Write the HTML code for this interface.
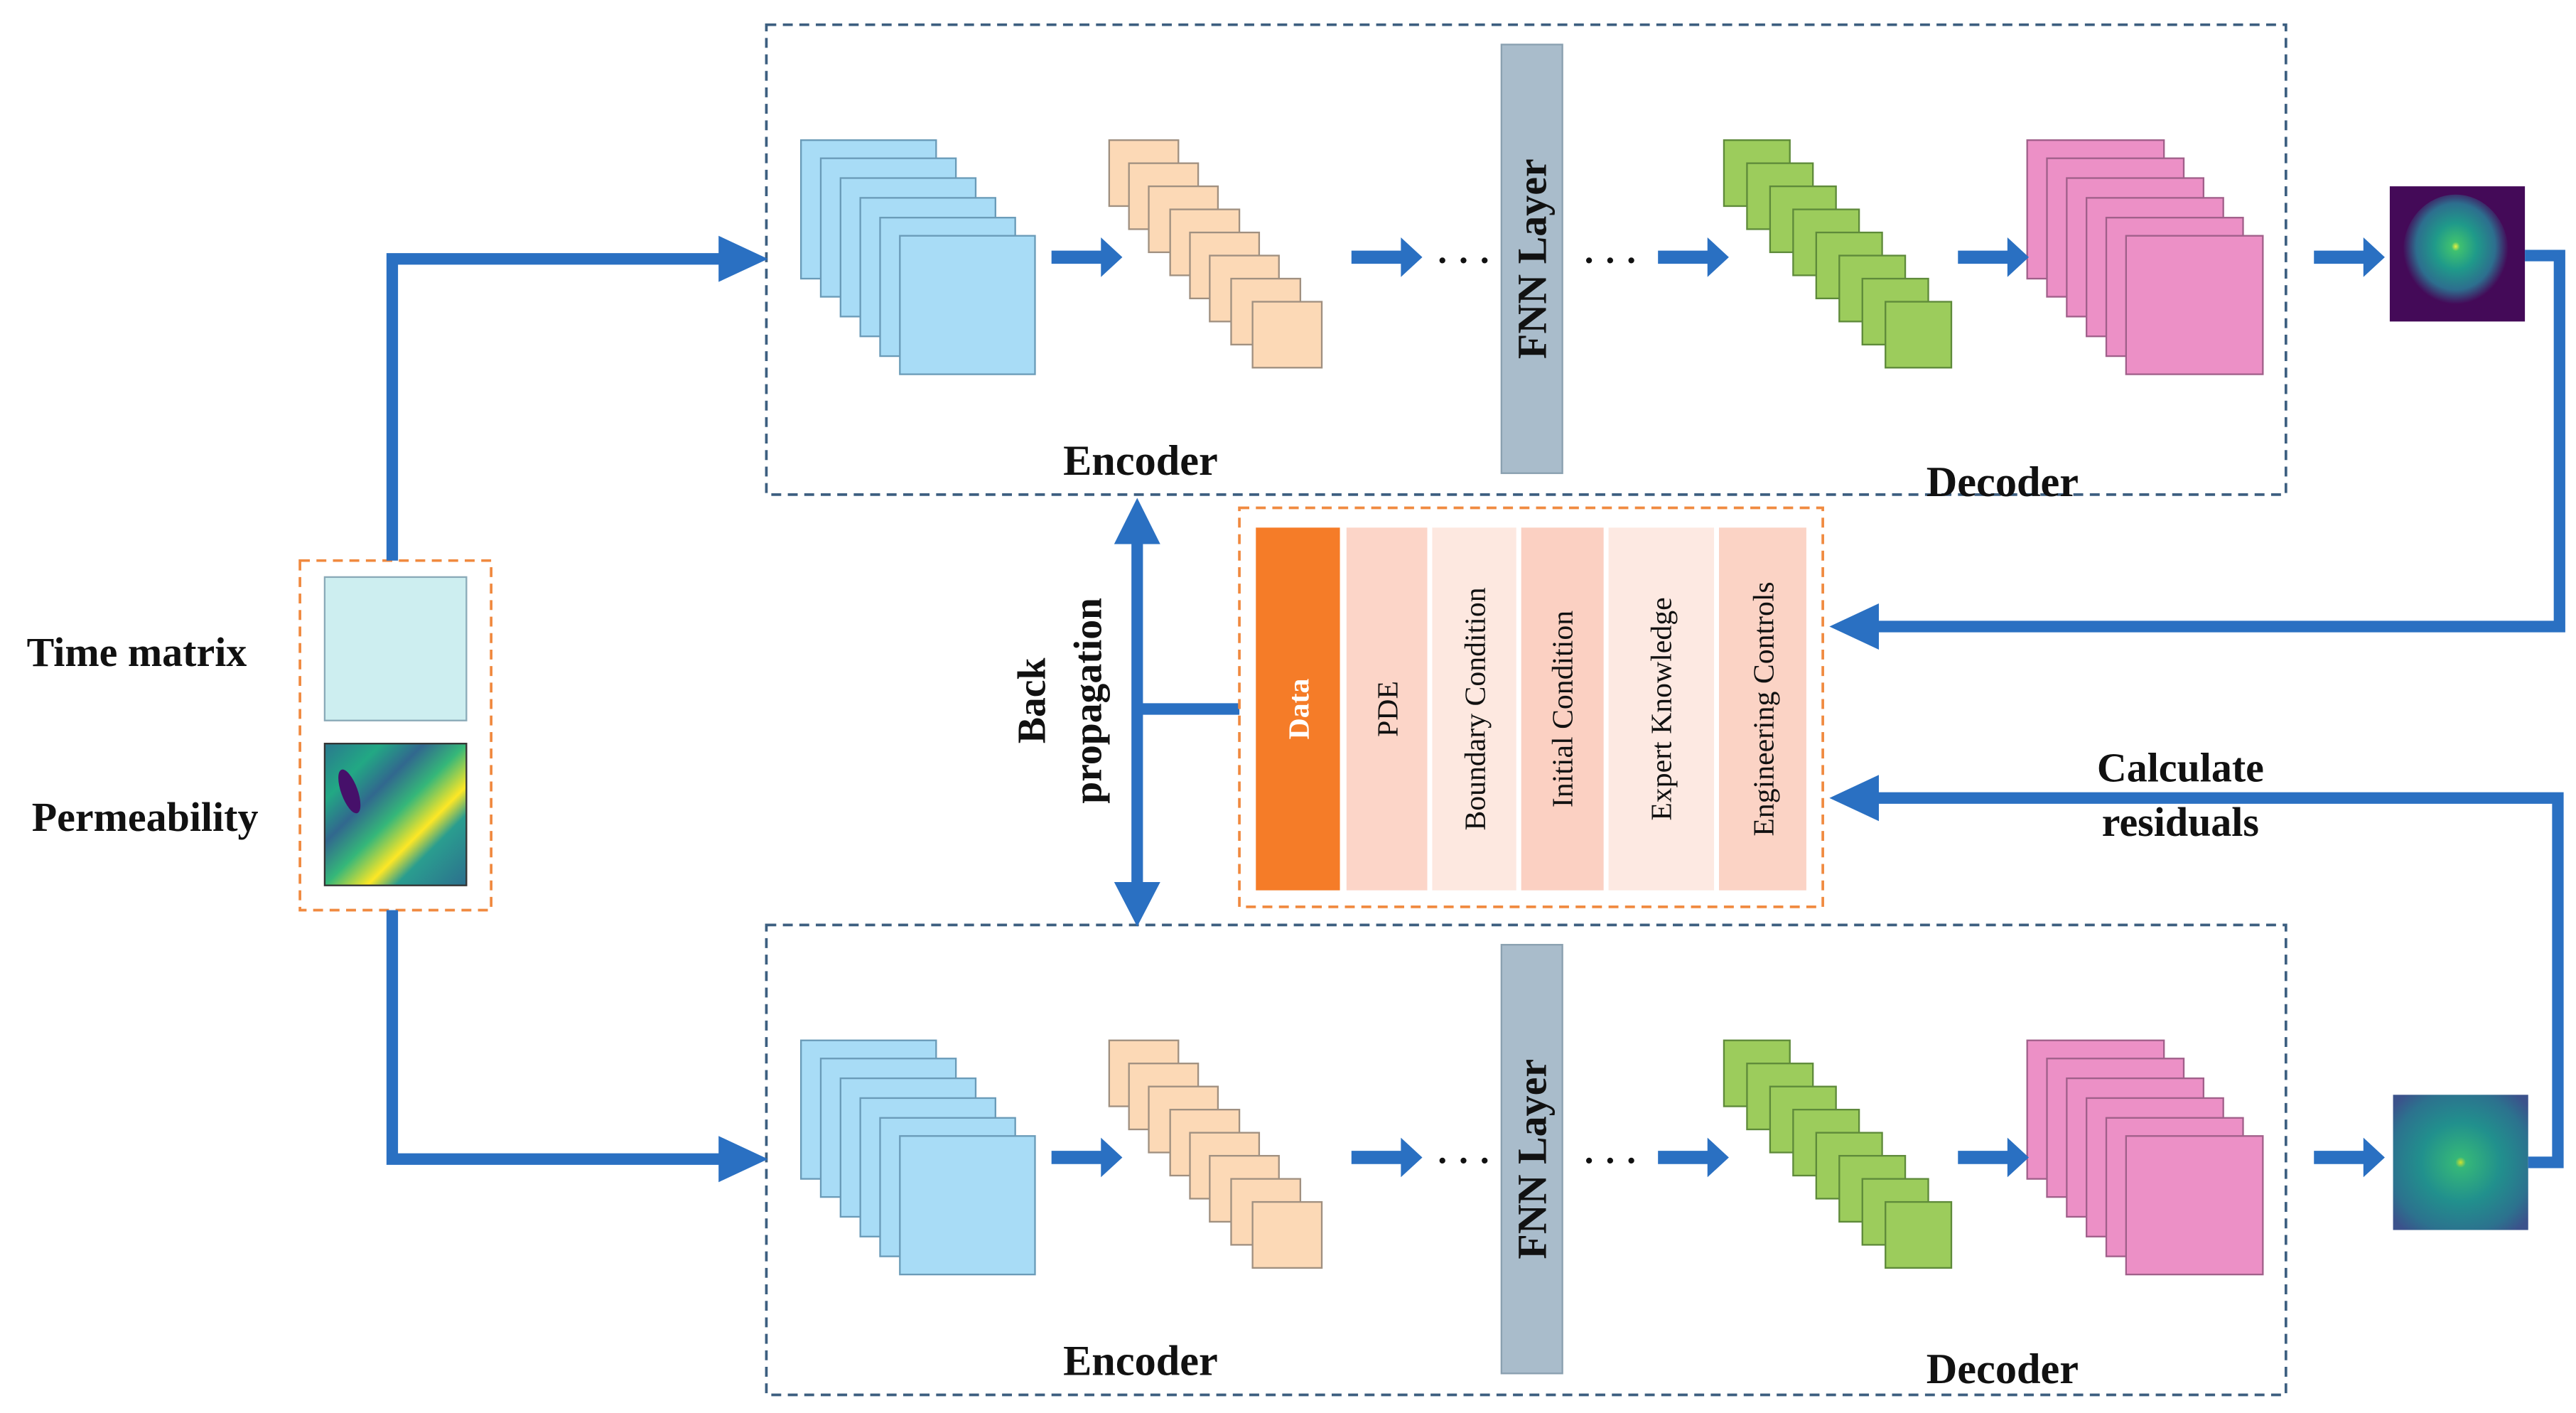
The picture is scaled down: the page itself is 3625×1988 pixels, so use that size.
<!DOCTYPE html>
<html><head><meta charset="utf-8"><style>
html,body{margin:0;padding:0;background:#fff;}
svg{display:block;}
text{font-family:"Liberation Serif",serif;font-weight:bold;fill:#111;}
</style></head><body>
<svg width="3625" height="1988" viewBox="0 0 1563 857" preserveAspectRatio="none" xmlns="http://www.w3.org/2000/svg">
<defs>
<radialGradient id="g1" cx="50%" cy="45%" r="50%">
<stop offset="0" stop-color="#e8f040"/><stop offset="0.08" stop-color="#3fc070"/><stop offset="0.4" stop-color="#1f9a8a"/><stop offset="0.75" stop-color="#2d6e8e"/><stop offset="1" stop-color="#440a58"/></radialGradient>
<radialGradient id="g2" cx="50%" cy="50%" r="65%">
<stop offset="0" stop-color="#d0e030"/><stop offset="0.06" stop-color="#35b779"/><stop offset="0.45" stop-color="#21908d"/><stop offset="0.8" stop-color="#2c728e"/><stop offset="1" stop-color="#3b528b"/></radialGradient>
<linearGradient id="g3" x1="0" y1="0" x2="1" y2="1">
<stop offset="0" stop-color="#2a788e"/><stop offset="0.2" stop-color="#22a884"/><stop offset="0.35" stop-color="#31688e"/><stop offset="0.5" stop-color="#35b779"/><stop offset="0.65" stop-color="#fde725"/><stop offset="0.75" stop-color="#2a9d8f"/><stop offset="1" stop-color="#2c6f8e"/></linearGradient>
<g id="stacks">
<rect x="0" y="0" width="922" height="285" fill="none" stroke="#3d5f80" stroke-width="1.6" stroke-dasharray="6,4"/>
<g fill="#a8dcf6" stroke="#6a9bb8" stroke-width="1">
<rect x="21" y="70" width="82" height="84"/><rect x="33" y="81" width="82" height="84"/><rect x="45" y="93" width="82" height="84"/><rect x="57" y="105" width="82" height="84"/><rect x="69" y="117" width="82" height="84"/><rect x="81" y="128" width="82" height="84"/>
</g>
<g fill="#fcd9b6" stroke="#a09080" stroke-width="1">
<rect x="208" y="70" width="42" height="40"/><rect x="220" y="84" width="42" height="40"/><rect x="232" y="98" width="42" height="40"/><rect x="245" y="112" width="42" height="40"/><rect x="257" y="126" width="42" height="40"/><rect x="269" y="140" width="42" height="40"/><rect x="282" y="154" width="42" height="40"/><rect x="295" y="168" width="42" height="40"/>
</g>
<rect x="446" y="12" width="37" height="260" fill="#a9bccb" stroke="#8aa0b0"/>
<text transform="translate(473,142) rotate(-90)" text-anchor="middle" font-size="25">FNN Layer</text>
<g fill="#9ccc5c" stroke="#5e8a3a" stroke-width="1">
<rect x="581" y="70" width="40" height="40"/><rect x="595" y="84" width="40" height="40"/><rect x="609" y="98" width="40" height="40"/><rect x="623" y="112" width="40" height="40"/><rect x="637" y="126" width="40" height="40"/><rect x="651" y="140" width="40" height="40"/><rect x="665" y="154" width="40" height="40"/><rect x="679" y="168" width="40" height="40"/>
</g>
<g fill="#ec90c6" stroke="#a0608a" stroke-width="1">
<rect x="765" y="70" width="83" height="84"/><rect x="777" y="81" width="83" height="84"/><rect x="789" y="93" width="83" height="84"/><rect x="801" y="105" width="83" height="84"/><rect x="813" y="117" width="83" height="84"/><rect x="825" y="128" width="83" height="84"/>
</g>
<g fill="#2a70c2">
<path d="M173 137h30v-8l13 12-13 12v-8h-30z"/>
<path d="M355 137h30v-8l13 12-13 12v-8h-30z"/>
<path d="M541 137h30v-8l13 12-13 12v-8h-30z"/>
<path d="M723 137h30v-8l13 12-13 12v-8h-30z"/>
<path d="M939 137h30v-8l13 12-13 12v-8h-30z"/>
</g>
<text x="423" y="150" text-anchor="middle" font-size="22" font-weight="normal">· · ·</text>
<text x="512" y="150" text-anchor="middle" font-size="22" font-weight="normal">· · ·</text>
</g>
</defs>
<use href="#stacks" x="465" y="15"/>
<use href="#stacks" x="465" y="561"/>
<text x="692" y="288" text-anchor="middle" font-size="26">Encoder</text>
<text x="1215" y="301" text-anchor="middle" font-size="26">Decoder</text>
<text x="692" y="834" text-anchor="middle" font-size="26">Encoder</text>
<text x="1215" y="839" text-anchor="middle" font-size="26">Decoder</text>
<rect x="1450" y="113" width="82" height="82" fill="#440a58"/>
<ellipse cx="1490" cy="153" rx="32" ry="35" fill="url(#g1)"/>
<rect x="1452" y="664" width="82" height="82" fill="url(#g2)"/>
<rect x="182" y="340" width="116" height="212" fill="none" stroke="#f08a40" stroke-width="1.6" stroke-dasharray="6,4"/>
<rect x="197" y="350" width="86" height="87" fill="#cdeef0" stroke="#8aaab8"/>
<rect x="197" y="451" width="86" height="86" fill="url(#g3)" stroke="#333"/>
<ellipse cx="212" cy="480" rx="5" ry="14" fill="#46106a" transform="rotate(-20 212 480)"/>
<text x="83" y="404" text-anchor="middle" font-size="25">Time matrix</text>
<text x="88" y="504" text-anchor="middle" font-size="25">Permeability</text>
<g fill="none" stroke="#2a70c2" stroke-width="7">
<path d="M238 340V157H440"/>
<path d="M238 552V703H440"/>
<path d="M1532 155H1553V380H1135"/>
<path d="M1534 705H1552V484H1135"/>
<path d="M690 325V540"/>
<path d="M690 430H752"/>
</g>
<g fill="#2a70c2">
<path d="M436 143L466 157L436 171z"/>
<path d="M436 689L466 703L436 717z"/>
<path d="M1140 366L1110 380L1140 394z"/>
<path d="M1140 470L1110 484L1140 498z"/>
<path d="M676 330L690 302L704 330z"/>
<path d="M676 535L690 562L704 535z"/>
</g>
<text transform="translate(634,425) rotate(-90)" text-anchor="middle" font-size="24">Back</text>
<text transform="translate(668,425) rotate(-90)" text-anchor="middle" font-size="24">propagation</text>
<text x="1323" y="474" text-anchor="middle" font-size="25">Calculate</text>
<text x="1323" y="507" text-anchor="middle" font-size="25">residuals</text>
<rect x="752" y="308" width="354" height="242" fill="none" stroke="#f08a40" stroke-width="1.6" stroke-dasharray="6,4"/>
<rect x="762" y="320" width="51" height="220" fill="#f57c28"/>
<rect x="817" y="320" width="49" height="220" fill="#fcd5c8"/>
<rect x="869" y="320" width="51" height="220" fill="#fde8e0"/>
<rect x="923" y="320" width="50" height="220" fill="#fbd0c2"/>
<rect x="976" y="320" width="64" height="220" fill="#fde9e2"/>
<rect x="1043" y="320" width="53" height="220" fill="#fbd3c5"/>
<g font-size="18">
<text transform="translate(794,430) rotate(-90)" text-anchor="middle" style="fill:#fff;font-weight:bold">Data</text>
<text transform="translate(848,430) rotate(-90)" text-anchor="middle" style="font-weight:normal">PDE</text>
<text transform="translate(901,430) rotate(-90)" text-anchor="middle" style="font-weight:normal">Boundary Condition</text>
<text transform="translate(954,430) rotate(-90)" text-anchor="middle" style="font-weight:normal">Initial Condition</text>
<text transform="translate(1014,430) rotate(-90)" text-anchor="middle" style="font-weight:normal">Expert Knowledge</text>
<text transform="translate(1076,430) rotate(-90)" text-anchor="middle" style="font-weight:normal">Engineering Controls</text>
</g>
</svg>
</body></html>
